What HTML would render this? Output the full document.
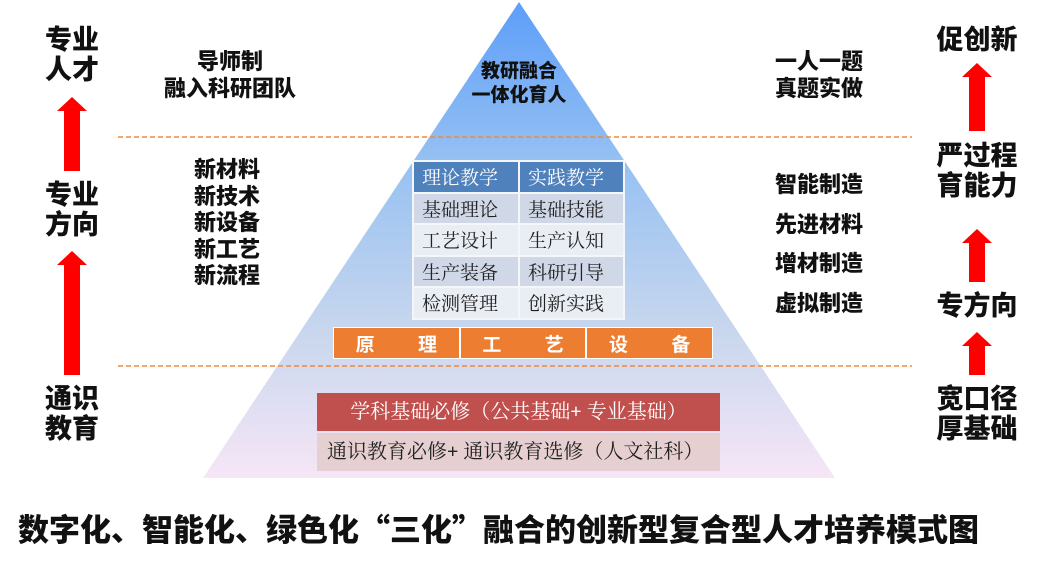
<!DOCTYPE html>
<html><head><meta charset="utf-8"><style>
body{margin:0;width:1039px;height:567px;background:#fff;position:relative;overflow:hidden;font-family:"Liberation Sans","Noto Sans CJK SC",sans-serif}
.t{position:absolute;font-weight:900;color:#111;white-space:nowrap}
.big{font-size:27px;line-height:30px;text-align:center}
.mid{font-size:22px;line-height:26px}
table{position:absolute;border-collapse:collapse;font-family:"Liberation Serif","Noto Serif CJK SC",serif}
td{border:2px solid #f4f6fa;font-size:19px;padding:0 0 0 8px;height:29.5px;color:#222}
</style></head><body>
<svg width="1039" height="567" style="position:absolute;left:0;top:0">
<defs><linearGradient id="g" x1="0" y1="0" x2="0" y2="1">
<stop offset="0" stop-color="#5d9ef9"/><stop offset="0.35" stop-color="#98c2f2"/><stop offset="0.7" stop-color="#c9d7ee"/><stop offset="1" stop-color="#f6e6f6"/></linearGradient></defs>
<polygon points="519,2 835,478 203,478" fill="url(#g)"/>
<line x1="118" y1="137" x2="912" y2="137" stroke="#f08a3c" stroke-width="1.5" stroke-dasharray="5,3"/>
<line x1="118" y1="366" x2="912" y2="366" stroke="#f08a3c" stroke-width="1.5" stroke-dasharray="5,3"/>
<g fill="#ff0000">
<polygon points="72,97 87,111 80,111 80,171 64,171 64,111 57,111"/>
<polygon points="72,251 87,265 80,265 80,375 64,375 64,265 57,265"/>
<polygon points="977,63 992,77 985,77 985,131 969,131 969,77 962,77"/>
<polygon points="977,229 992,243 985,243 985,282 969,282 969,243 962,243"/>
<polygon points="977,332 992,346 985,346 985,375 969,375 969,346 962,346"/>
</g>
</svg>
<div class="t big" style="left:40px;top:25px;width:64px">专业<br>人才</div>
<div class="t big" style="left:40px;top:180px;width:64px">专业<br>方向</div>
<div class="t big" style="left:40px;top:384px;width:64px">通识<br>教育</div>
<div class="t big" style="left:925px;top:25px;width:104px">促创新</div>
<div class="t big" style="left:925px;top:141px;width:104px">严过程<br>育能力</div>
<div class="t big" style="left:925px;top:291px;width:104px">专方向</div>
<div class="t big" style="left:925px;top:384px;width:104px">宽口径<br>厚基础</div>
<div class="t mid" style="left:148px;top:48px;width:164px;text-align:center;line-height:27px">导师制<br>融入科研团队</div>
<div class="t mid" style="left:194px;top:157px;line-height:26.5px">新材料<br>新技术<br>新设备<br>新工艺<br>新流程</div>
<div class="t mid" style="left:775px;top:48px;line-height:27px">一人一题<br>真题实做</div>
<div class="t mid" style="left:775px;top:165px;line-height:39.5px">智能制造<br>先进材料<br>增材制造<br>虚拟制造</div>
<div class="t" style="left:440px;top:60px;width:158px;text-align:center;font-size:19px;line-height:24px">教研融合<br>一体化育人</div>
<table style="left:412px;top:160px;width:213px">
<tr><td style="background:#4f81bd;color:#fff;width:96px;font-size:19px">理论教学</td><td style="background:#4f81bd;color:#fff;font-size:19px">实践教学</td></tr>
<tr><td style="background:#d0d8e8">基础理论</td><td style="background:#d0d8e8">基础技能</td></tr>
<tr><td style="background:#e9edf4">工艺设计</td><td style="background:#e9edf4">生产认知</td></tr>
<tr><td style="background:#d0d8e8">生产装备</td><td style="background:#d0d8e8">科研引导</td></tr>
<tr><td style="background:#e9edf4">检测管理</td><td style="background:#e9edf4">创新实践</td></tr>
</table>
<div style="position:absolute;left:333px;top:327px;width:380px;height:32px;display:flex;font-family:'Liberation Sans','Noto Sans CJK SC',sans-serif;font-weight:bold;color:#fff;font-size:19px;border:1px solid #fff;box-sizing:border-box">
<div style="flex:1;background:#ed7d31;display:flex;justify-content:space-around;align-items:center;border-right:2px solid #fff"><span>原</span><span>理</span></div>
<div style="flex:1;background:#ed7d31;display:flex;justify-content:space-around;align-items:center;border-right:2px solid #fff"><span>工</span><span>艺</span></div>
<div style="flex:1;background:#ed7d31;display:flex;justify-content:space-around;align-items:center"><span>设</span><span>备</span></div>
</div>
<div style="position:absolute;left:317px;top:393px;width:403px;height:38px;background:#c0504d;color:#fff;font-size:20px;line-height:38px;text-align:center;font-family:'Liberation Serif','Noto Serif CJK SC',serif">学科基础必修（公共基础<b>+</b> 专业基础）</div>
<div style="position:absolute;left:317px;top:433px;width:403px;height:38px;background:#e6cfd0;color:#222;font-size:20px;line-height:38px;padding-left:10px;box-sizing:border-box;font-family:'Liberation Serif','Noto Serif CJK SC',serif">通识教育必修<b>+</b> 通识教育选修（人文社科）</div>
<div class="t" style="left:18px;top:509px;font-size:31px;line-height:38px;font-family:'Noto Sans CJK SC',sans-serif">数字化、智能化、绿色化“三化”融合的创新型复合型人才培养模式图</div>
</body></html>
